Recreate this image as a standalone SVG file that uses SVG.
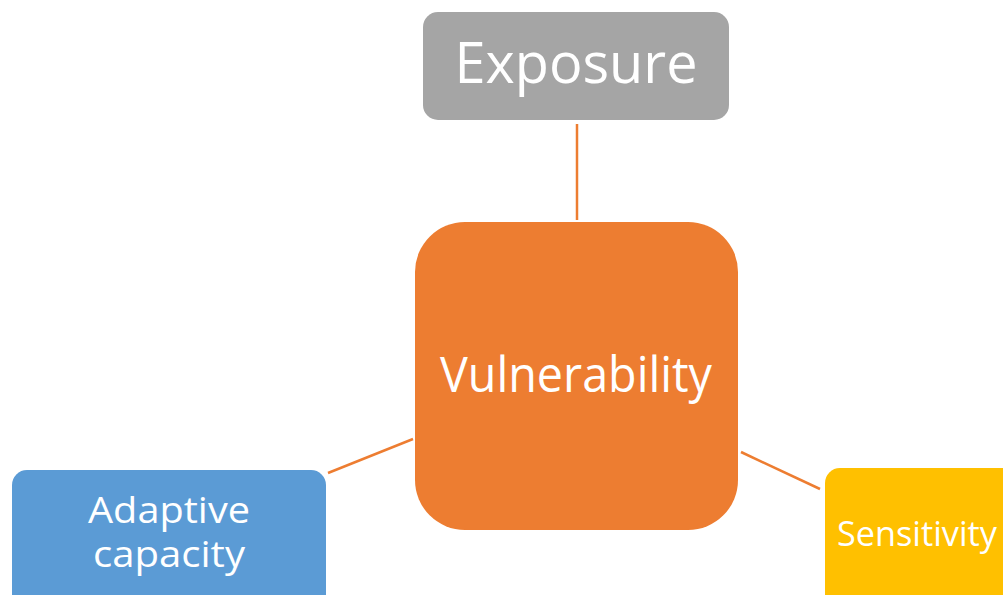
<svg xmlns="http://www.w3.org/2000/svg" width="1003" height="595" viewBox="0 0 1003 595">
<style>
text{font-family:"Open Sans","Liberation Sans",sans-serif;fill:#fff;text-anchor:middle}
.conn{stroke:#ED7D31;stroke-width:2.5;fill:none}
</style>
<rect width="1003" height="595" fill="#fff"/>
<g id="connectors">
<line class="conn" x1="577" y1="124" x2="577" y2="220"/>
<line class="conn" x1="328" y1="473" x2="413" y2="439"/>
<line class="conn" x1="741" y1="452" x2="820" y2="489"/>
</g>
<g id="exposure">
<rect x="423" y="12" width="306" height="108" rx="15" fill="#A5A5A5"/>
<text x="576" y="83" font-size="56" textLength="243" lengthAdjust="spacingAndGlyphs">Exposure</text>
</g>
<g id="vulnerability">
<rect x="415" y="222" width="323" height="308" rx="50" fill="#ED7D31"/>
<text x="576" y="392" font-size="49" textLength="272" lengthAdjust="spacingAndGlyphs">Vulnerability</text>
</g>
<g id="adaptive">
<rect x="12" y="470" width="314" height="150" rx="15" fill="#5B9BD5"/>
<text x="169" y="523" font-size="37" textLength="162" lengthAdjust="spacingAndGlyphs">Adaptive</text>
<text x="169" y="567" font-size="37" textLength="152" lengthAdjust="spacingAndGlyphs">capacity</text>
</g>
<g id="sensitivity">
<rect x="825" y="468" width="250" height="160" rx="15" fill="#FFC000"/>
<text x="917" y="546" font-size="35" textLength="160" lengthAdjust="spacingAndGlyphs">Sensitivity</text>
</g>
</svg>
